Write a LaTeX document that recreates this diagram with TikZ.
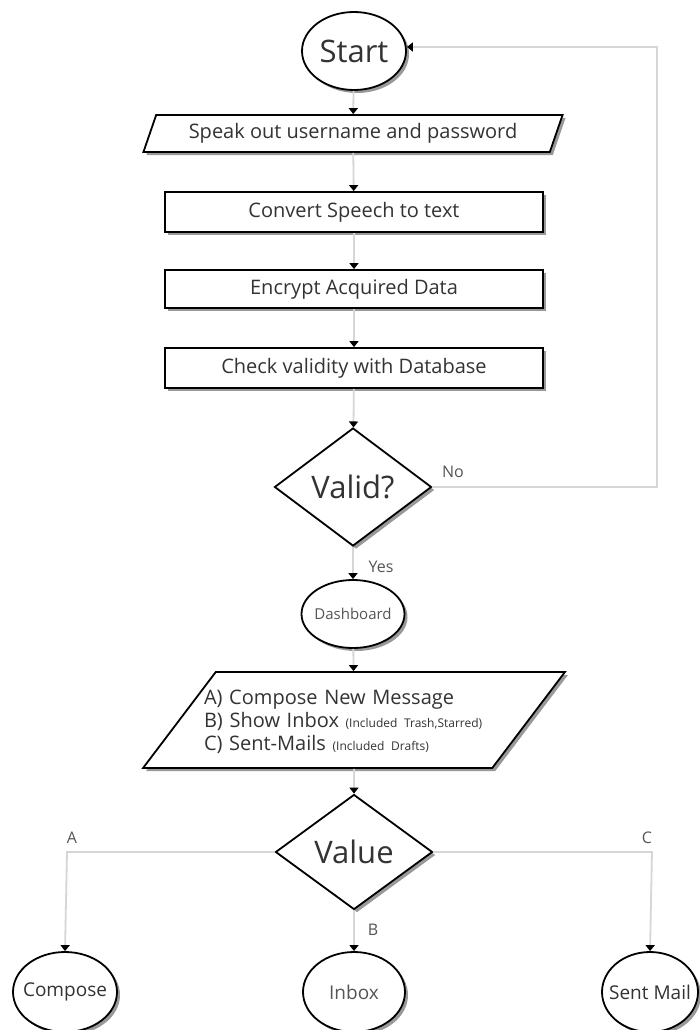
\documentclass[tikz,border=0pt]{standalone}
\usepackage{fontspec}
\setmainfont{Open Sans}
\usetikzlibrary{shapes.geometric,arrows.meta,shadows}
\definecolor{txt}{HTML}{333333}
\definecolor{lighttxt}{HTML}{555555}
\definecolor{conncol}{HTML}{D6D6D6}
\newcommand{\smalltxt}{\fontsize{12}{14}\selectfont}
\begin{document}
\begin{tikzpicture}[x=1pt,y=-1pt,
  shp/.style={draw=black,line width=1.8pt,fill=white,
    drop shadow={shadow xshift=3pt,shadow yshift=-3pt,fill=black!40,opacity=1},
    inner sep=0pt,text=txt},
  term/.style={shp,ellipse},
  procbox/.style={shp,rectangle,minimum width=378pt,font=\fontsize{20}{24}\selectfont},
  decision/.style={shp,diamond,minimum width=157pt},
  conn/.style={draw=conncol,line width=1.8pt,-{Triangle[width=9pt,length=6pt,color=black]}},
  lbl/.style={text=lighttxt,font=\fontsize{16}{18}\selectfont,inner sep=0pt},
  big/.style={font=\fontsize{31}{36}\selectfont,text=txt},
  mid/.style={font=\fontsize{19}{22}\selectfont,text=txt}
]
\useasboundingbox[fill=white] (0,0) rectangle (699,1030);

% nodes
\node[term,minimum width=104pt,minimum height=78pt,label={[big]center:Start}] (start) at (354,51) {};
\node[shp,trapezium,trapezium stretches=true,trapezium left angle=62,trapezium right angle=118,
      minimum width=420pt,minimum height=37pt,font=\fontsize{20}{24}\selectfont] (speak) at (353,133.5) {Speak out username and password};
\node[procbox,minimum height=40pt] (convert) at (354,212) {Convert Speech to text};
\node[procbox,minimum height=38pt] (encrypt) at (354,289) {Encrypt Acquired Data};
\node[procbox,minimum height=40pt] (check) at (354,368) {Check validity with Database};
\node[decision,minimum height=118pt,label={[big]center:Valid?}] (valid) at (353,487) {};
\node[term,minimum width=103pt,minimum height=68pt,label={[font=\fontsize{15}{18}\selectfont,text=lighttxt]center:Dashboard}] (dash) at (353,614) {};
\node[shp,trapezium,trapezium stretches=true,trapezium left angle=78,trapezium right angle=102,
      minimum width=422pt,minimum height=96pt,
      label={[text width=310pt,align=left,xshift=5pt,yshift=-2pt,inner sep=0pt,text=txt,font=\fontsize{20}{23}\selectfont]center:{A) Compose New Message\\
   B) Show Inbox {\smalltxt (Included Trash,Starred)}\\
   C) Sent-Mails {\smalltxt (Included Drafts)}}}] (menu) at (354,720) {\phantom{X}};
\node[decision,minimum height=115pt,label={[big]center:Value}] (value) at (354,852) {};
\node[term,minimum width=104pt,minimum height=80pt,label={[mid]center:Compose}] (compose) at (65,992) {};
\node[term,minimum width=102pt,minimum height=80pt,label={[mid,text=lighttxt]center:Inbox}] (inbox) at (354,992) {};
\node[term,minimum width=96pt,minimum height=80pt,label={[mid]center:Sent Mail}] (sent) at (650,992) {};

% coordinates
\coordinate (nocorner) at (657,47);
\coordinate (nolow) at (657,487);
\coordinate (acorner) at (67,852);
\coordinate (ccorner) at (652,852);

% connectors
\draw[conn] (start) -- (speak);
\draw[conn] (speak) -- (convert);
\draw[conn] (convert) -- (encrypt);
\draw[conn] (encrypt) -- (check);
\draw[conn] (check) -- (valid);
\draw[conn] (valid.east) -- (nolow) -- (nocorner) -- (start.east |- nocorner);
\draw[conn] (valid) -- (dash);
\draw[conn] (dash) -- (menu);
\draw[conn] (menu) -- (value);
\draw[conn] (value.west) -- (acorner) -- (compose.north);
\draw[conn] (value) -- (inbox);
\draw[conn] (value.east) -- (ccorner) -- (sent.north);

% labels
\node[lbl] (nolbl) at (453,472) {No};
\node[lbl] (yeslbl) at (381,567) {Yes};
\node[lbl] (albl) at (72,838) {A};
\node[lbl] (blbl) at (373,930) {B};
\node[lbl] (clbl) at (647,838) {C};
\end{tikzpicture}
\end{document}
